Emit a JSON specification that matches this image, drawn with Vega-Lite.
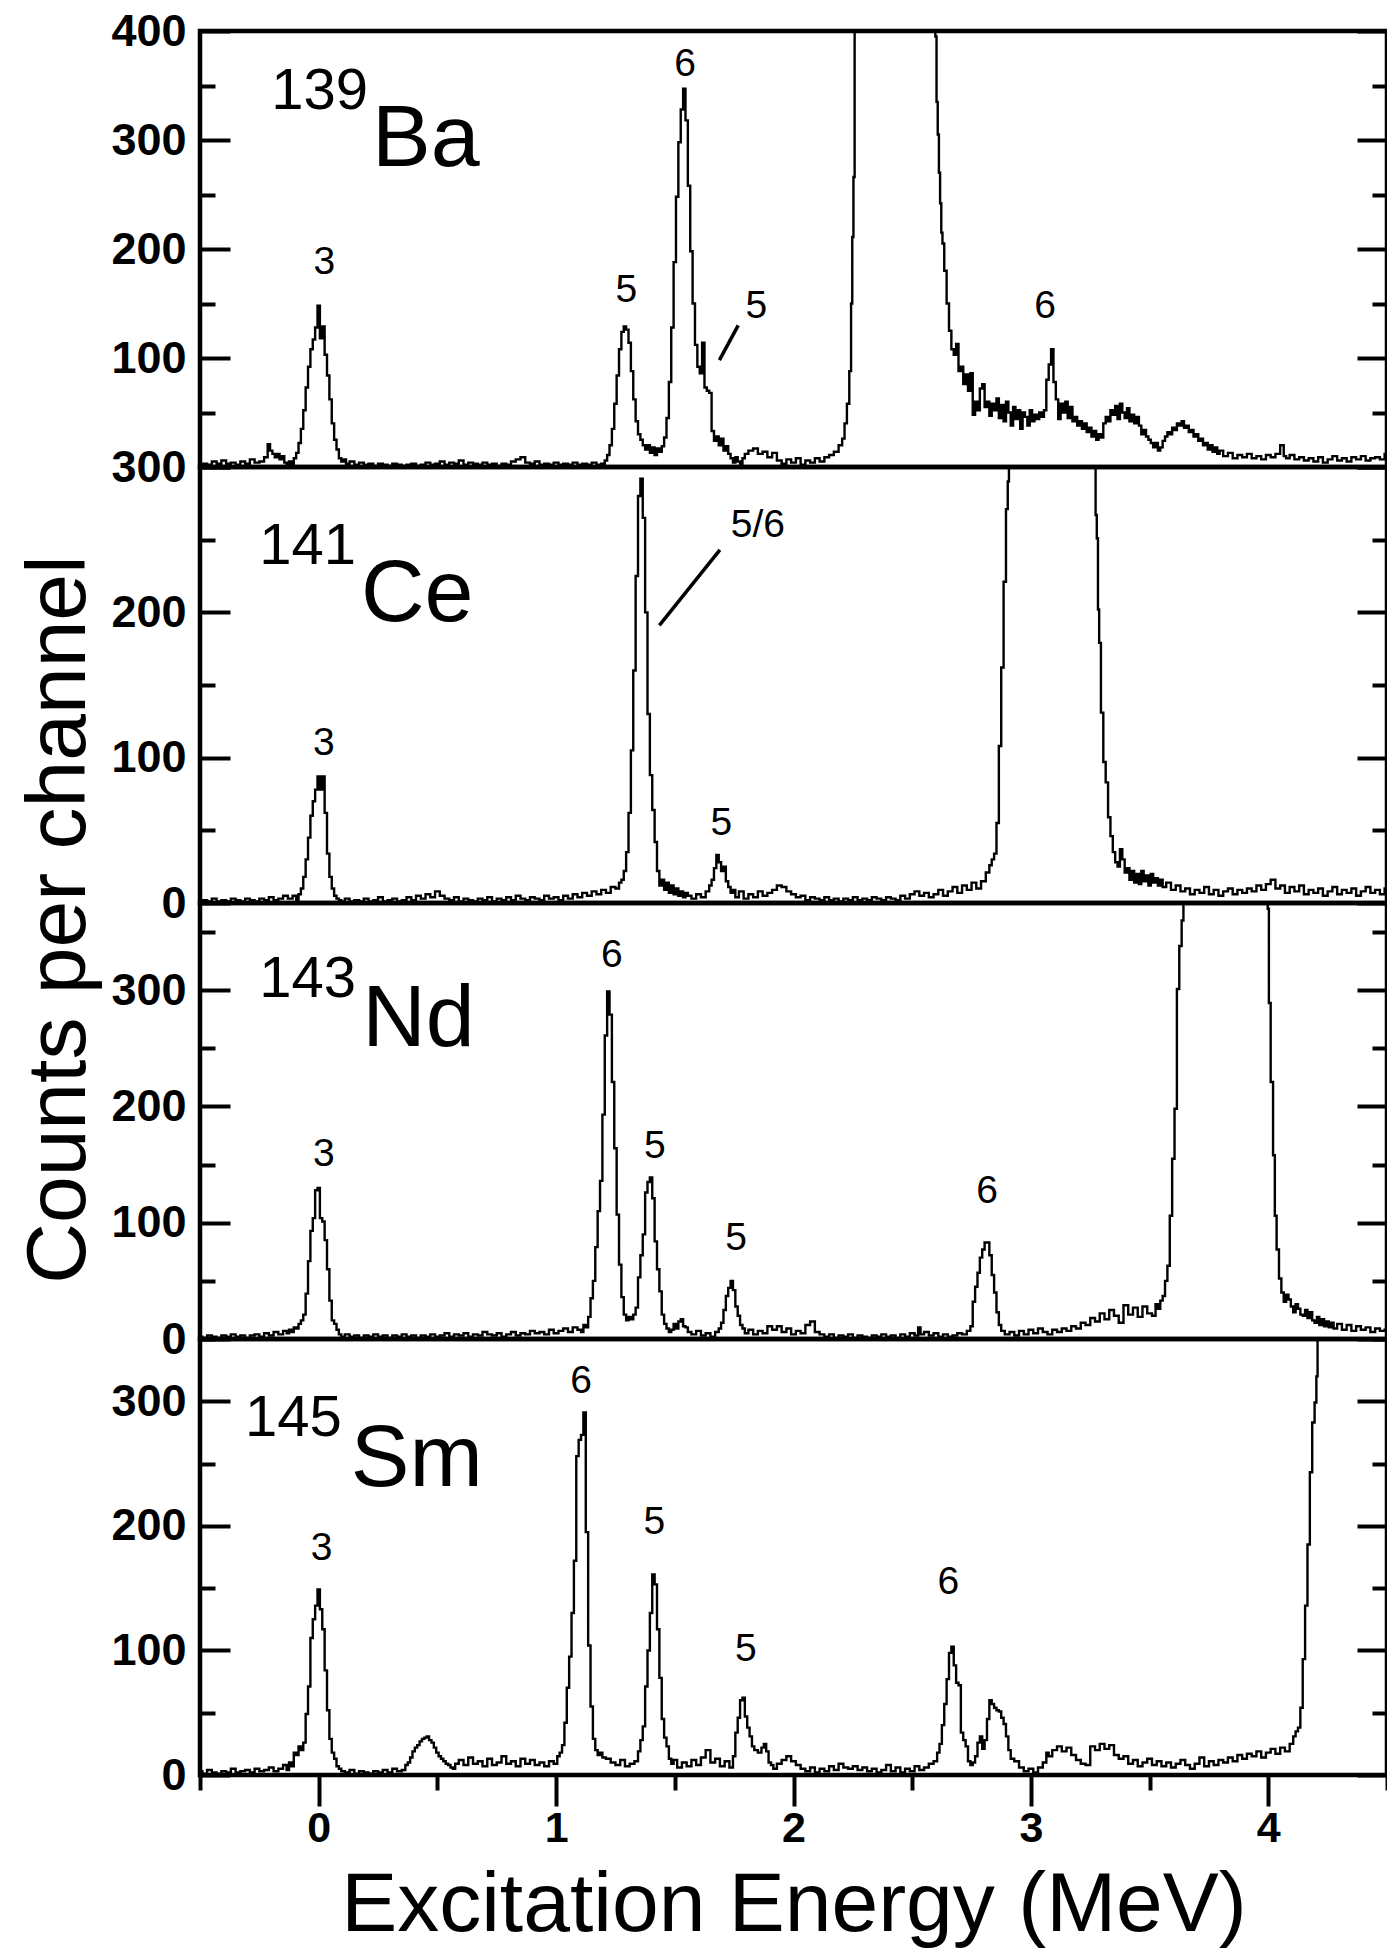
{
"$schema": "https://vega.github.io/schema/vega-lite/v6.json",
"padding": {"left": 14, "top": 6, "right": 0, "bottom": 0},
"bounds": "flush",
"spacing": 0,
"background": "white",
"config": {
  "view": {"stroke": "black", "strokeWidth": 4.5},
  "axis": {"domain": false, "grid": false, "ticks": true, "tickWidth": 4, "tickColor": "black", "labelFont": "Liberation Sans", "labelFontWeight": "bold", "labelFontSize": 45, "labelColor": "black", "labelOverlap": false, "labelFlush": false, "labelBound": false, "titleFont": "Liberation Sans", "titleFontWeight": "normal", "titleFontSize": 84, "titleColor": "black"}
},
"datasets": {
"ba": [
{"E":-0.5,"c":2},{"E":-0.48,"c":3},{"E":-0.46,"c":2},{"E":-0.44,"c":5},{"E":-0.42,"c":3},{"E":-0.4,"c":6},{"E":-0.38,"c":3},{"E":-0.36,"c":4},{"E":-0.34,"c":2},{"E":-0.32,"c":5},{"E":-0.3,"c":3},{"E":-0.28,"c":7},{"E":-0.26,"c":4},{"E":-0.24,"c":5},{"E":-0.22,"c":9},{"E":-0.21,"c":21},{"E":-0.2,"c":15},{"E":-0.19,"c":12},{"E":-0.18,"c":9},{"E":-0.17,"c":12},{"E":-0.16,"c":7},{"E":-0.15,"c":10},{"E":-0.14,"c":4},{"E":-0.13,"c":2},{"E":-0.12,"c":5},{"E":-0.11,"c":3},{"E":-0.1,"c":8},{"E":-0.09,"c":13},{"E":-0.08,"c":22},{"E":-0.07,"c":35},{"E":-0.06,"c":52},{"E":-0.05,"c":73},{"E":-0.04,"c":92},{"E":-0.03,"c":108},{"E":-0.02,"c":117},{"E":-0.01,"c":128},{"E":0,"c":148},{"E":0.01,"c":118},{"E":0.02,"c":129},{"E":0.03,"c":103},{"E":0.04,"c":84},{"E":0.05,"c":62},{"E":0.06,"c":40},{"E":0.07,"c":25},{"E":0.08,"c":16},{"E":0.09,"c":8},{"E":0.1,"c":5},{"E":0.11,"c":7},{"E":0.12,"c":3},{"E":0.14,"c":5},{"E":0.16,"c":2},{"E":0.18,"c":4},{"E":0.2,"c":2},{"E":0.22,"c":3},{"E":0.24,"c":1},{"E":0.26,"c":3},{"E":0.28,"c":2},{"E":0.3,"c":1},{"E":0.32,"c":3},{"E":0.34,"c":2},{"E":0.36,"c":1},{"E":0.38,"c":2},{"E":0.4,"c":3},{"E":0.42,"c":1},{"E":0.44,"c":2},{"E":0.46,"c":4},{"E":0.48,"c":2},{"E":0.5,"c":3},{"E":0.52,"c":5},{"E":0.54,"c":2},{"E":0.56,"c":4},{"E":0.58,"c":3},{"E":0.6,"c":6},{"E":0.62,"c":2},{"E":0.64,"c":4},{"E":0.66,"c":3},{"E":0.68,"c":2},{"E":0.7,"c":4},{"E":0.72,"c":2},{"E":0.74,"c":3},{"E":0.76,"c":1},{"E":0.78,"c":3},{"E":0.8,"c":2},{"E":0.82,"c":5},{"E":0.84,"c":7},{"E":0.86,"c":9},{"E":0.88,"c":4},{"E":0.9,"c":3},{"E":0.92,"c":5},{"E":0.94,"c":2},{"E":0.96,"c":3},{"E":0.98,"c":2},{"E":1,"c":4},{"E":1.02,"c":2},{"E":1.04,"c":3},{"E":1.06,"c":2},{"E":1.08,"c":4},{"E":1.1,"c":2},{"E":1.12,"c":3},{"E":1.14,"c":2},{"E":1.16,"c":4},{"E":1.18,"c":2},{"E":1.2,"c":3},{"E":1.21,"c":6},{"E":1.22,"c":11},{"E":1.23,"c":20},{"E":1.24,"c":35},{"E":1.25,"c":58},{"E":1.26,"c":84},{"E":1.27,"c":108},{"E":1.28,"c":124},{"E":1.29,"c":129},{"E":1.3,"c":126},{"E":1.31,"c":114},{"E":1.32,"c":88},{"E":1.33,"c":62},{"E":1.34,"c":42},{"E":1.35,"c":30},{"E":1.36,"c":25},{"E":1.37,"c":20},{"E":1.38,"c":16},{"E":1.39,"c":20},{"E":1.4,"c":13},{"E":1.41,"c":18},{"E":1.42,"c":11},{"E":1.43,"c":17},{"E":1.44,"c":14},{"E":1.45,"c":19},{"E":1.46,"c":27},{"E":1.47,"c":45},{"E":1.48,"c":78},{"E":1.49,"c":128},{"E":1.5,"c":188},{"E":1.51,"c":248},{"E":1.52,"c":298},{"E":1.53,"c":328},{"E":1.54,"c":347},{"E":1.55,"c":318},{"E":1.56,"c":258},{"E":1.57,"c":198},{"E":1.58,"c":150},{"E":1.59,"c":112},{"E":1.6,"c":92},{"E":1.61,"c":86},{"E":1.62,"c":114},{"E":1.63,"c":73},{"E":1.64,"c":70},{"E":1.65,"c":68},{"E":1.66,"c":33},{"E":1.67,"c":24},{"E":1.68,"c":28},{"E":1.69,"c":20},{"E":1.7,"c":26},{"E":1.71,"c":15},{"E":1.72,"c":19},{"E":1.73,"c":12},{"E":1.74,"c":8},{"E":1.75,"c":4},{"E":1.76,"c":9},{"E":1.77,"c":5},{"E":1.78,"c":3},{"E":1.79,"c":8},{"E":1.8,"c":12},{"E":1.82,"c":15},{"E":1.84,"c":17},{"E":1.86,"c":12},{"E":1.88,"c":14},{"E":1.9,"c":9},{"E":1.92,"c":13},{"E":1.94,"c":6},{"E":1.96,"c":3},{"E":1.98,"c":7},{"E":2,"c":4},{"E":2.02,"c":8},{"E":2.04,"c":2},{"E":2.06,"c":6},{"E":2.08,"c":4},{"E":2.1,"c":8},{"E":2.12,"c":5},{"E":2.14,"c":9},{"E":2.16,"c":11},{"E":2.18,"c":14},{"E":2.2,"c":20},{"E":2.21,"c":26},{"E":2.22,"c":40},{"E":2.23,"c":58},{"E":2.24,"c":88},{"E":2.245,"c":150},{"E":2.25,"c":211},{"E":2.255,"c":266},{"E":2.26,"c":460},{"E":2.3,"c":1000},{"E":2.4,"c":1500},{"E":2.5,"c":1300},{"E":2.57,"c":800},{"E":2.595,"c":460},{"E":2.6,"c":395},{"E":2.605,"c":335},{"E":2.61,"c":305},{"E":2.615,"c":270},{"E":2.62,"c":242},{"E":2.625,"c":215},{"E":2.63,"c":205},{"E":2.64,"c":180},{"E":2.65,"c":150},{"E":2.66,"c":125},{"E":2.67,"c":108},{"E":2.68,"c":103},{"E":2.69,"c":113},{"E":2.7,"c":88},{"E":2.71,"c":92},{"E":2.72,"c":76},{"E":2.73,"c":85},{"E":2.74,"c":70},{"E":2.75,"c":86},{"E":2.76,"c":48},{"E":2.77,"c":60},{"E":2.78,"c":52},{"E":2.79,"c":72},{"E":2.8,"c":76},{"E":2.81,"c":55},{"E":2.82,"c":60},{"E":2.83,"c":47},{"E":2.84,"c":58},{"E":2.85,"c":52},{"E":2.86,"c":63},{"E":2.87,"c":45},{"E":2.88,"c":57},{"E":2.89,"c":42},{"E":2.9,"c":60},{"E":2.91,"c":50},{"E":2.92,"c":38},{"E":2.93,"c":55},{"E":2.94,"c":44},{"E":2.95,"c":52},{"E":2.96,"c":35},{"E":2.97,"c":50},{"E":2.98,"c":46},{"E":2.99,"c":38},{"E":3,"c":52},{"E":3.01,"c":42},{"E":3.02,"c":48},{"E":3.03,"c":44},{"E":3.04,"c":50},{"E":3.05,"c":46},{"E":3.06,"c":52},{"E":3.07,"c":80},{"E":3.08,"c":94},{"E":3.09,"c":108},{"E":3.1,"c":78},{"E":3.11,"c":62},{"E":3.12,"c":44},{"E":3.13,"c":58},{"E":3.14,"c":50},{"E":3.15,"c":60},{"E":3.16,"c":45},{"E":3.17,"c":55},{"E":3.18,"c":42},{"E":3.19,"c":46},{"E":3.2,"c":38},{"E":3.21,"c":42},{"E":3.22,"c":35},{"E":3.23,"c":40},{"E":3.24,"c":32},{"E":3.25,"c":36},{"E":3.26,"c":28},{"E":3.27,"c":33},{"E":3.28,"c":25},{"E":3.29,"c":30},{"E":3.3,"c":27},{"E":3.31,"c":40},{"E":3.32,"c":46},{"E":3.33,"c":42},{"E":3.34,"c":52},{"E":3.35,"c":48},{"E":3.36,"c":56},{"E":3.37,"c":44},{"E":3.38,"c":58},{"E":3.39,"c":50},{"E":3.4,"c":45},{"E":3.41,"c":54},{"E":3.42,"c":42},{"E":3.43,"c":48},{"E":3.44,"c":40},{"E":3.45,"c":46},{"E":3.46,"c":38},{"E":3.47,"c":30},{"E":3.48,"c":34},{"E":3.49,"c":28},{"E":3.5,"c":25},{"E":3.51,"c":22},{"E":3.52,"c":18},{"E":3.53,"c":22},{"E":3.54,"c":15},{"E":3.55,"c":18},{"E":3.56,"c":24},{"E":3.57,"c":28},{"E":3.58,"c":32},{"E":3.59,"c":30},{"E":3.6,"c":36},{"E":3.61,"c":34},{"E":3.62,"c":40},{"E":3.63,"c":38},{"E":3.64,"c":42},{"E":3.65,"c":36},{"E":3.66,"c":38},{"E":3.67,"c":32},{"E":3.68,"c":34},{"E":3.69,"c":28},{"E":3.7,"c":30},{"E":3.71,"c":24},{"E":3.72,"c":26},{"E":3.73,"c":20},{"E":3.74,"c":22},{"E":3.75,"c":16},{"E":3.76,"c":20},{"E":3.77,"c":14},{"E":3.78,"c":18},{"E":3.79,"c":12},{"E":3.8,"c":15},{"E":3.82,"c":10},{"E":3.84,"c":13},{"E":3.86,"c":8},{"E":3.88,"c":11},{"E":3.9,"c":9},{"E":3.92,"c":12},{"E":3.94,"c":8},{"E":3.96,"c":10},{"E":3.98,"c":7},{"E":4,"c":11},{"E":4.02,"c":9},{"E":4.04,"c":12},{"E":4.06,"c":20},{"E":4.07,"c":10},{"E":4.08,"c":8},{"E":4.1,"c":11},{"E":4.12,"c":7},{"E":4.14,"c":9},{"E":4.16,"c":6},{"E":4.18,"c":8},{"E":4.2,"c":5},{"E":4.22,"c":9},{"E":4.24,"c":4},{"E":4.26,"c":7},{"E":4.28,"c":10},{"E":4.3,"c":6},{"E":4.32,"c":8},{"E":4.34,"c":5},{"E":4.36,"c":9},{"E":4.38,"c":7},{"E":4.4,"c":10},{"E":4.42,"c":6},{"E":4.44,"c":8},{"E":4.46,"c":9},{"E":4.48,"c":7},{"E":4.5,"c":12}
],
"ce": [
{"E":-0.5,"c":1},{"E":-0.48,"c":2},{"E":-0.46,"c":1},{"E":-0.44,"c":3},{"E":-0.42,"c":1},{"E":-0.4,"c":2},{"E":-0.38,"c":1},{"E":-0.36,"c":3},{"E":-0.34,"c":2},{"E":-0.32,"c":1},{"E":-0.3,"c":3},{"E":-0.28,"c":2},{"E":-0.26,"c":1},{"E":-0.24,"c":3},{"E":-0.22,"c":2},{"E":-0.2,"c":4},{"E":-0.18,"c":2},{"E":-0.16,"c":3},{"E":-0.14,"c":5},{"E":-0.12,"c":3},{"E":-0.1,"c":5},{"E":-0.09,"c":2},{"E":-0.08,"c":6},{"E":-0.07,"c":10},{"E":-0.06,"c":18},{"E":-0.05,"c":30},{"E":-0.04,"c":45},{"E":-0.03,"c":60},{"E":-0.02,"c":70},{"E":-0.01,"c":78},{"E":0,"c":87},{"E":0.01,"c":78},{"E":0.02,"c":87},{"E":0.03,"c":62},{"E":0.04,"c":34},{"E":0.05,"c":18},{"E":0.06,"c":10},{"E":0.07,"c":5},{"E":0.08,"c":3},{"E":0.09,"c":2},{"E":0.1,"c":1},{"E":0.12,"c":3},{"E":0.14,"c":1},{"E":0.16,"c":2},{"E":0.18,"c":1},{"E":0.2,"c":3},{"E":0.22,"c":1},{"E":0.24,"c":2},{"E":0.26,"c":4},{"E":0.28,"c":1},{"E":0.3,"c":2},{"E":0.32,"c":3},{"E":0.34,"c":1},{"E":0.36,"c":2},{"E":0.38,"c":4},{"E":0.4,"c":2},{"E":0.42,"c":5},{"E":0.44,"c":3},{"E":0.46,"c":6},{"E":0.48,"c":4},{"E":0.5,"c":8},{"E":0.52,"c":5},{"E":0.54,"c":3},{"E":0.56,"c":2},{"E":0.58,"c":4},{"E":0.6,"c":1},{"E":0.62,"c":3},{"E":0.64,"c":2},{"E":0.66,"c":1},{"E":0.68,"c":3},{"E":0.7,"c":2},{"E":0.72,"c":4},{"E":0.74,"c":1},{"E":0.76,"c":3},{"E":0.78,"c":2},{"E":0.8,"c":4},{"E":0.82,"c":2},{"E":0.84,"c":5},{"E":0.86,"c":3},{"E":0.88,"c":2},{"E":0.9,"c":4},{"E":0.92,"c":3},{"E":0.94,"c":2},{"E":0.96,"c":5},{"E":0.98,"c":3},{"E":1,"c":4},{"E":1.02,"c":2},{"E":1.04,"c":5},{"E":1.06,"c":3},{"E":1.08,"c":6},{"E":1.1,"c":4},{"E":1.12,"c":7},{"E":1.14,"c":5},{"E":1.16,"c":8},{"E":1.18,"c":6},{"E":1.2,"c":9},{"E":1.22,"c":7},{"E":1.24,"c":11},{"E":1.26,"c":10},{"E":1.27,"c":14},{"E":1.28,"c":16},{"E":1.29,"c":22},{"E":1.3,"c":35},{"E":1.31,"c":62},{"E":1.32,"c":105},{"E":1.33,"c":160},{"E":1.34,"c":225},{"E":1.35,"c":280},{"E":1.36,"c":292},{"E":1.37,"c":265},{"E":1.38,"c":200},{"E":1.39,"c":130},{"E":1.4,"c":88},{"E":1.41,"c":64},{"E":1.42,"c":42},{"E":1.43,"c":22},{"E":1.44,"c":12},{"E":1.45,"c":16},{"E":1.46,"c":9},{"E":1.47,"c":14},{"E":1.48,"c":7},{"E":1.49,"c":12},{"E":1.5,"c":6},{"E":1.51,"c":10},{"E":1.52,"c":5},{"E":1.53,"c":8},{"E":1.54,"c":4},{"E":1.55,"c":7},{"E":1.56,"c":5},{"E":1.58,"c":3},{"E":1.6,"c":6},{"E":1.62,"c":4},{"E":1.64,"c":8},{"E":1.65,"c":12},{"E":1.66,"c":16},{"E":1.67,"c":24},{"E":1.68,"c":33},{"E":1.69,"c":28},{"E":1.7,"c":22},{"E":1.71,"c":25},{"E":1.72,"c":15},{"E":1.73,"c":11},{"E":1.74,"c":7},{"E":1.75,"c":9},{"E":1.76,"c":4},{"E":1.78,"c":8},{"E":1.8,"c":3},{"E":1.82,"c":6},{"E":1.84,"c":4},{"E":1.86,"c":8},{"E":1.88,"c":5},{"E":1.9,"c":7},{"E":1.92,"c":9},{"E":1.94,"c":12},{"E":1.96,"c":11},{"E":1.98,"c":8},{"E":2,"c":6},{"E":2.02,"c":4},{"E":2.04,"c":5},{"E":2.06,"c":2},{"E":2.08,"c":4},{"E":2.1,"c":3},{"E":2.12,"c":2},{"E":2.14,"c":4},{"E":2.16,"c":2},{"E":2.18,"c":3},{"E":2.2,"c":1},{"E":2.22,"c":3},{"E":2.24,"c":2},{"E":2.26,"c":4},{"E":2.28,"c":2},{"E":2.3,"c":3},{"E":2.32,"c":2},{"E":2.34,"c":4},{"E":2.36,"c":3},{"E":2.38,"c":2},{"E":2.4,"c":4},{"E":2.42,"c":3},{"E":2.44,"c":2},{"E":2.46,"c":5},{"E":2.48,"c":3},{"E":2.5,"c":6},{"E":2.52,"c":8},{"E":2.54,"c":5},{"E":2.56,"c":7},{"E":2.58,"c":4},{"E":2.6,"c":6},{"E":2.62,"c":9},{"E":2.64,"c":5},{"E":2.66,"c":8},{"E":2.68,"c":11},{"E":2.7,"c":7},{"E":2.72,"c":12},{"E":2.74,"c":9},{"E":2.76,"c":14},{"E":2.78,"c":10},{"E":2.8,"c":15},{"E":2.82,"c":21},{"E":2.83,"c":26},{"E":2.84,"c":30},{"E":2.85,"c":34},{"E":2.86,"c":55},{"E":2.87,"c":108},{"E":2.88,"c":162},{"E":2.89,"c":221},{"E":2.9,"c":271},{"E":2.905,"c":290},{"E":2.91,"c":500},{"E":3,"c":1200},{"E":3.1,"c":1500},{"E":3.2,"c":1100},{"E":3.265,"c":500},{"E":3.27,"c":300},{"E":3.275,"c":267},{"E":3.28,"c":251},{"E":3.285,"c":202},{"E":3.29,"c":179},{"E":3.3,"c":131},{"E":3.31,"c":97},{"E":3.32,"c":83},{"E":3.33,"c":59},{"E":3.34,"c":46},{"E":3.35,"c":35},{"E":3.36,"c":28},{"E":3.37,"c":25},{"E":3.38,"c":37},{"E":3.39,"c":30},{"E":3.4,"c":21},{"E":3.41,"c":24},{"E":3.42,"c":16},{"E":3.43,"c":22},{"E":3.44,"c":14},{"E":3.45,"c":20},{"E":3.46,"c":13},{"E":3.47,"c":22},{"E":3.48,"c":15},{"E":3.49,"c":19},{"E":3.5,"c":12},{"E":3.51,"c":20},{"E":3.52,"c":14},{"E":3.53,"c":17},{"E":3.54,"c":12},{"E":3.55,"c":16},{"E":3.56,"c":11},{"E":3.58,"c":14},{"E":3.6,"c":9},{"E":3.62,"c":12},{"E":3.64,"c":8},{"E":3.66,"c":10},{"E":3.68,"c":6},{"E":3.7,"c":9},{"E":3.72,"c":7},{"E":3.74,"c":11},{"E":3.76,"c":6},{"E":3.78,"c":9},{"E":3.8,"c":5},{"E":3.82,"c":8},{"E":3.84,"c":10},{"E":3.86,"c":6},{"E":3.88,"c":9},{"E":3.9,"c":7},{"E":3.92,"c":10},{"E":3.94,"c":8},{"E":3.96,"c":12},{"E":3.98,"c":9},{"E":4,"c":13},{"E":4.02,"c":16},{"E":4.04,"c":10},{"E":4.06,"c":12},{"E":4.08,"c":7},{"E":4.1,"c":11},{"E":4.12,"c":8},{"E":4.14,"c":12},{"E":4.16,"c":6},{"E":4.18,"c":9},{"E":4.2,"c":7},{"E":4.22,"c":10},{"E":4.24,"c":5},{"E":4.26,"c":8},{"E":4.28,"c":11},{"E":4.3,"c":6},{"E":4.32,"c":9},{"E":4.34,"c":7},{"E":4.36,"c":10},{"E":4.38,"c":5},{"E":4.4,"c":8},{"E":4.42,"c":11},{"E":4.44,"c":7},{"E":4.46,"c":9},{"E":4.48,"c":6},{"E":4.5,"c":10}
],
"nd": [
{"E":-0.5,"c":2},{"E":-0.48,"c":1},{"E":-0.46,"c":3},{"E":-0.44,"c":2},{"E":-0.42,"c":1},{"E":-0.4,"c":3},{"E":-0.38,"c":2},{"E":-0.36,"c":4},{"E":-0.34,"c":2},{"E":-0.32,"c":3},{"E":-0.3,"c":1},{"E":-0.28,"c":3},{"E":-0.26,"c":4},{"E":-0.24,"c":2},{"E":-0.22,"c":5},{"E":-0.2,"c":3},{"E":-0.18,"c":6},{"E":-0.16,"c":4},{"E":-0.14,"c":7},{"E":-0.13,"c":5},{"E":-0.12,"c":8},{"E":-0.11,"c":6},{"E":-0.1,"c":10},{"E":-0.09,"c":9},{"E":-0.08,"c":13},{"E":-0.07,"c":16},{"E":-0.06,"c":21},{"E":-0.05,"c":39},{"E":-0.04,"c":67},{"E":-0.03,"c":93},{"E":-0.02,"c":104},{"E":-0.01,"c":128},{"E":0,"c":130},{"E":0.01,"c":104},{"E":0.02,"c":101},{"E":0.03,"c":85},{"E":0.04,"c":60},{"E":0.05,"c":33},{"E":0.06,"c":16},{"E":0.07,"c":13},{"E":0.08,"c":8},{"E":0.09,"c":4},{"E":0.1,"c":2},{"E":0.12,"c":4},{"E":0.14,"c":2},{"E":0.16,"c":3},{"E":0.18,"c":1},{"E":0.2,"c":3},{"E":0.22,"c":2},{"E":0.24,"c":4},{"E":0.26,"c":2},{"E":0.28,"c":3},{"E":0.3,"c":1},{"E":0.32,"c":3},{"E":0.34,"c":2},{"E":0.36,"c":4},{"E":0.38,"c":2},{"E":0.4,"c":3},{"E":0.42,"c":1},{"E":0.44,"c":3},{"E":0.46,"c":2},{"E":0.48,"c":4},{"E":0.5,"c":2},{"E":0.52,"c":3},{"E":0.54,"c":5},{"E":0.56,"c":2},{"E":0.58,"c":4},{"E":0.6,"c":3},{"E":0.62,"c":5},{"E":0.64,"c":2},{"E":0.66,"c":4},{"E":0.68,"c":3},{"E":0.7,"c":6},{"E":0.72,"c":4},{"E":0.74,"c":3},{"E":0.76,"c":5},{"E":0.78,"c":2},{"E":0.8,"c":4},{"E":0.82,"c":6},{"E":0.84,"c":3},{"E":0.86,"c":5},{"E":0.88,"c":4},{"E":0.9,"c":7},{"E":0.92,"c":5},{"E":0.94,"c":6},{"E":0.96,"c":4},{"E":0.98,"c":8},{"E":1,"c":5},{"E":1.02,"c":7},{"E":1.04,"c":9},{"E":1.06,"c":6},{"E":1.08,"c":10},{"E":1.1,"c":8},{"E":1.11,"c":6},{"E":1.12,"c":12},{"E":1.13,"c":10},{"E":1.14,"c":19},{"E":1.15,"c":35},{"E":1.16,"c":50},{"E":1.17,"c":79},{"E":1.18,"c":110},{"E":1.19,"c":136},{"E":1.2,"c":193},{"E":1.21,"c":261},{"E":1.22,"c":299},{"E":1.23,"c":279},{"E":1.24,"c":221},{"E":1.25,"c":164},{"E":1.26,"c":107},{"E":1.27,"c":64},{"E":1.28,"c":36},{"E":1.29,"c":21},{"E":1.3,"c":16},{"E":1.31,"c":19},{"E":1.32,"c":17},{"E":1.33,"c":21},{"E":1.34,"c":27},{"E":1.35,"c":53},{"E":1.36,"c":72},{"E":1.37,"c":90},{"E":1.38,"c":126},{"E":1.39,"c":135},{"E":1.4,"c":139},{"E":1.41,"c":121},{"E":1.42,"c":84},{"E":1.43,"c":60},{"E":1.44,"c":41},{"E":1.45,"c":21},{"E":1.46,"c":13},{"E":1.47,"c":9},{"E":1.48,"c":6},{"E":1.49,"c":8},{"E":1.5,"c":13},{"E":1.51,"c":9},{"E":1.52,"c":15},{"E":1.53,"c":17},{"E":1.54,"c":11},{"E":1.55,"c":10},{"E":1.56,"c":6},{"E":1.58,"c":4},{"E":1.6,"c":7},{"E":1.62,"c":3},{"E":1.64,"c":5},{"E":1.66,"c":2},{"E":1.68,"c":6},{"E":1.69,"c":9},{"E":1.7,"c":14},{"E":1.71,"c":25},{"E":1.72,"c":37},{"E":1.73,"c":44},{"E":1.74,"c":50},{"E":1.75,"c":42},{"E":1.76,"c":28},{"E":1.77,"c":20},{"E":1.78,"c":12},{"E":1.79,"c":9},{"E":1.8,"c":5},{"E":1.82,"c":8},{"E":1.84,"c":4},{"E":1.86,"c":7},{"E":1.88,"c":5},{"E":1.9,"c":11},{"E":1.92,"c":8},{"E":1.94,"c":11},{"E":1.96,"c":6},{"E":1.98,"c":9},{"E":2,"c":4},{"E":2.02,"c":7},{"E":2.04,"c":5},{"E":2.06,"c":12},{"E":2.08,"c":15},{"E":2.1,"c":6},{"E":2.12,"c":4},{"E":2.14,"c":2},{"E":2.16,"c":4},{"E":2.18,"c":1},{"E":2.2,"c":3},{"E":2.22,"c":2},{"E":2.24,"c":4},{"E":2.26,"c":1},{"E":2.28,"c":3},{"E":2.3,"c":2},{"E":2.32,"c":1},{"E":2.34,"c":3},{"E":2.36,"c":2},{"E":2.38,"c":4},{"E":2.4,"c":2},{"E":2.42,"c":3},{"E":2.44,"c":1},{"E":2.46,"c":4},{"E":2.48,"c":2},{"E":2.5,"c":5},{"E":2.52,"c":3},{"E":2.53,"c":10},{"E":2.54,"c":4},{"E":2.56,"c":6},{"E":2.58,"c":3},{"E":2.6,"c":5},{"E":2.62,"c":2},{"E":2.64,"c":4},{"E":2.66,"c":2},{"E":2.68,"c":3},{"E":2.7,"c":5},{"E":2.72,"c":4},{"E":2.74,"c":7},{"E":2.75,"c":11},{"E":2.76,"c":32},{"E":2.77,"c":45},{"E":2.78,"c":57},{"E":2.79,"c":70},{"E":2.8,"c":77},{"E":2.81,"c":83},{"E":2.82,"c":83},{"E":2.83,"c":72},{"E":2.84,"c":55},{"E":2.85,"c":40},{"E":2.86,"c":23},{"E":2.87,"c":12},{"E":2.88,"c":7},{"E":2.9,"c":4},{"E":2.92,"c":6},{"E":2.94,"c":3},{"E":2.96,"c":7},{"E":2.98,"c":4},{"E":3,"c":8},{"E":3.02,"c":5},{"E":3.04,"c":9},{"E":3.06,"c":6},{"E":3.08,"c":4},{"E":3.1,"c":8},{"E":3.12,"c":6},{"E":3.14,"c":9},{"E":3.16,"c":7},{"E":3.18,"c":11},{"E":3.2,"c":9},{"E":3.22,"c":14},{"E":3.24,"c":12},{"E":3.26,"c":18},{"E":3.28,"c":15},{"E":3.3,"c":22},{"E":3.32,"c":17},{"E":3.34,"c":25},{"E":3.36,"c":20},{"E":3.38,"c":14},{"E":3.4,"c":29},{"E":3.42,"c":21},{"E":3.44,"c":27},{"E":3.46,"c":19},{"E":3.48,"c":28},{"E":3.5,"c":22},{"E":3.52,"c":20},{"E":3.53,"c":30},{"E":3.54,"c":26},{"E":3.55,"c":33},{"E":3.56,"c":37},{"E":3.57,"c":50},{"E":3.58,"c":63},{"E":3.59,"c":106},{"E":3.6,"c":155},{"E":3.61,"c":198},{"E":3.62,"c":301},{"E":3.63,"c":338},{"E":3.64,"c":360},{"E":3.645,"c":600},{"E":3.7,"c":1200},{"E":3.8,"c":1500},{"E":3.9,"c":1200},{"E":3.995,"c":600},{"E":4,"c":370},{"E":4.005,"c":289},{"E":4.015,"c":221},{"E":4.025,"c":158},{"E":4.03,"c":106},{"E":4.04,"c":77},{"E":4.05,"c":52},{"E":4.06,"c":40},{"E":4.07,"c":32},{"E":4.08,"c":38},{"E":4.09,"c":34},{"E":4.1,"c":28},{"E":4.11,"c":23},{"E":4.12,"c":30},{"E":4.13,"c":26},{"E":4.14,"c":21},{"E":4.15,"c":20},{"E":4.16,"c":25},{"E":4.17,"c":18},{"E":4.18,"c":23},{"E":4.19,"c":16},{"E":4.2,"c":14},{"E":4.21,"c":19},{"E":4.22,"c":12},{"E":4.23,"c":17},{"E":4.24,"c":11},{"E":4.25,"c":15},{"E":4.26,"c":10},{"E":4.27,"c":14},{"E":4.28,"c":9},{"E":4.3,"c":13},{"E":4.32,"c":8},{"E":4.34,"c":12},{"E":4.36,"c":7},{"E":4.38,"c":11},{"E":4.4,"c":8},{"E":4.42,"c":10},{"E":4.44,"c":6},{"E":4.46,"c":9},{"E":4.48,"c":7},{"E":4.5,"c":8}
],
"sm": [
{"E":-0.5,"c":3},{"E":-0.48,"c":1},{"E":-0.46,"c":4},{"E":-0.44,"c":2},{"E":-0.42,"c":1},{"E":-0.4,"c":3},{"E":-0.38,"c":2},{"E":-0.36,"c":5},{"E":-0.34,"c":2},{"E":-0.32,"c":3},{"E":-0.3,"c":4},{"E":-0.28,"c":2},{"E":-0.26,"c":5},{"E":-0.24,"c":3},{"E":-0.22,"c":4},{"E":-0.2,"c":6},{"E":-0.18,"c":3},{"E":-0.16,"c":5},{"E":-0.14,"c":8},{"E":-0.13,"c":4},{"E":-0.12,"c":10},{"E":-0.11,"c":7},{"E":-0.1,"c":18},{"E":-0.09,"c":16},{"E":-0.08,"c":23},{"E":-0.07,"c":20},{"E":-0.06,"c":26},{"E":-0.05,"c":49},{"E":-0.04,"c":71},{"E":-0.03,"c":110},{"E":-0.02,"c":125},{"E":-0.01,"c":136},{"E":0,"c":149},{"E":0.01,"c":133},{"E":0.02,"c":117},{"E":0.03,"c":84},{"E":0.04,"c":52},{"E":0.05,"c":29},{"E":0.06,"c":18},{"E":0.07,"c":13},{"E":0.08,"c":7},{"E":0.09,"c":5},{"E":0.1,"c":3},{"E":0.12,"c":2},{"E":0.14,"c":4},{"E":0.16,"c":1},{"E":0.18,"c":3},{"E":0.2,"c":2},{"E":0.22,"c":1},{"E":0.24,"c":3},{"E":0.26,"c":2},{"E":0.28,"c":4},{"E":0.3,"c":2},{"E":0.32,"c":5},{"E":0.34,"c":3},{"E":0.36,"c":4},{"E":0.37,"c":8},{"E":0.38,"c":10},{"E":0.39,"c":14},{"E":0.4,"c":19},{"E":0.41,"c":22},{"E":0.42,"c":24},{"E":0.43,"c":27},{"E":0.44,"c":29},{"E":0.45,"c":30},{"E":0.46,"c":31},{"E":0.47,"c":28},{"E":0.48,"c":26},{"E":0.49,"c":22},{"E":0.5,"c":18},{"E":0.51,"c":15},{"E":0.52,"c":13},{"E":0.53,"c":11},{"E":0.54,"c":9},{"E":0.55,"c":8},{"E":0.56,"c":6},{"E":0.57,"c":5},{"E":0.58,"c":9},{"E":0.6,"c":12},{"E":0.62,"c":8},{"E":0.64,"c":14},{"E":0.66,"c":9},{"E":0.68,"c":11},{"E":0.7,"c":7},{"E":0.72,"c":13},{"E":0.74,"c":8},{"E":0.76,"c":10},{"E":0.78,"c":15},{"E":0.8,"c":9},{"E":0.82,"c":11},{"E":0.84,"c":7},{"E":0.86,"c":13},{"E":0.88,"c":9},{"E":0.9,"c":12},{"E":0.92,"c":8},{"E":0.94,"c":10},{"E":0.96,"c":7},{"E":0.98,"c":11},{"E":1,"c":9},{"E":1.01,"c":15},{"E":1.02,"c":18},{"E":1.03,"c":24},{"E":1.04,"c":42},{"E":1.05,"c":70},{"E":1.06,"c":95},{"E":1.07,"c":130},{"E":1.08,"c":172},{"E":1.09,"c":256},{"E":1.1,"c":269},{"E":1.11,"c":273},{"E":1.12,"c":291},{"E":1.13,"c":195},{"E":1.14,"c":104},{"E":1.15,"c":55},{"E":1.16,"c":29},{"E":1.17,"c":20},{"E":1.18,"c":16},{"E":1.19,"c":18},{"E":1.2,"c":14},{"E":1.22,"c":13},{"E":1.24,"c":10},{"E":1.26,"c":8},{"E":1.28,"c":12},{"E":1.3,"c":7},{"E":1.32,"c":9},{"E":1.34,"c":11},{"E":1.35,"c":19},{"E":1.36,"c":28},{"E":1.37,"c":39},{"E":1.38,"c":71},{"E":1.39,"c":100},{"E":1.4,"c":130},{"E":1.41,"c":161},{"E":1.42,"c":153},{"E":1.43,"c":117},{"E":1.44,"c":78},{"E":1.45,"c":45},{"E":1.46,"c":30},{"E":1.47,"c":23},{"E":1.48,"c":13},{"E":1.49,"c":9},{"E":1.5,"c":12},{"E":1.52,"c":6},{"E":1.54,"c":10},{"E":1.56,"c":7},{"E":1.58,"c":12},{"E":1.6,"c":8},{"E":1.62,"c":14},{"E":1.64,"c":20},{"E":1.66,"c":10},{"E":1.68,"c":13},{"E":1.7,"c":7},{"E":1.72,"c":11},{"E":1.74,"c":6},{"E":1.75,"c":15},{"E":1.76,"c":34},{"E":1.77,"c":46},{"E":1.78,"c":60},{"E":1.79,"c":62},{"E":1.8,"c":47},{"E":1.81,"c":38},{"E":1.82,"c":31},{"E":1.83,"c":23},{"E":1.84,"c":20},{"E":1.86,"c":18},{"E":1.87,"c":22},{"E":1.88,"c":25},{"E":1.89,"c":19},{"E":1.9,"c":10},{"E":1.91,"c":8},{"E":1.92,"c":5},{"E":1.94,"c":9},{"E":1.96,"c":12},{"E":1.98,"c":15},{"E":2,"c":11},{"E":2.02,"c":8},{"E":2.04,"c":5},{"E":2.06,"c":3},{"E":2.08,"c":6},{"E":2.1,"c":2},{"E":2.12,"c":5},{"E":2.14,"c":3},{"E":2.16,"c":7},{"E":2.18,"c":4},{"E":2.2,"c":9},{"E":2.22,"c":6},{"E":2.24,"c":5},{"E":2.26,"c":7},{"E":2.28,"c":4},{"E":2.3,"c":6},{"E":2.32,"c":3},{"E":2.34,"c":5},{"E":2.36,"c":2},{"E":2.38,"c":4},{"E":2.4,"c":8},{"E":2.42,"c":3},{"E":2.44,"c":6},{"E":2.46,"c":2},{"E":2.48,"c":5},{"E":2.5,"c":3},{"E":2.52,"c":7},{"E":2.54,"c":4},{"E":2.56,"c":6},{"E":2.58,"c":9},{"E":2.6,"c":11},{"E":2.61,"c":18},{"E":2.62,"c":25},{"E":2.63,"c":40},{"E":2.64,"c":57},{"E":2.65,"c":77},{"E":2.66,"c":98},{"E":2.67,"c":103},{"E":2.68,"c":88},{"E":2.69,"c":74},{"E":2.7,"c":72},{"E":2.71,"c":34},{"E":2.72,"c":28},{"E":2.73,"c":23},{"E":2.74,"c":11},{"E":2.75,"c":8},{"E":2.76,"c":10},{"E":2.77,"c":15},{"E":2.78,"c":26},{"E":2.79,"c":31},{"E":2.8,"c":21},{"E":2.81,"c":28},{"E":2.82,"c":45},{"E":2.83,"c":60},{"E":2.84,"c":57},{"E":2.85,"c":54},{"E":2.86,"c":52},{"E":2.87,"c":51},{"E":2.88,"c":46},{"E":2.89,"c":41},{"E":2.9,"c":31},{"E":2.91,"c":20},{"E":2.92,"c":13},{"E":2.94,"c":11},{"E":2.96,"c":6},{"E":2.98,"c":3},{"E":3,"c":5},{"E":3.02,"c":2},{"E":3.04,"c":6},{"E":3.06,"c":10},{"E":3.07,"c":18},{"E":3.08,"c":15},{"E":3.1,"c":20},{"E":3.12,"c":23},{"E":3.14,"c":19},{"E":3.16,"c":22},{"E":3.18,"c":16},{"E":3.2,"c":12},{"E":3.22,"c":9},{"E":3.24,"c":8},{"E":3.26,"c":23},{"E":3.28,"c":20},{"E":3.3,"c":25},{"E":3.32,"c":21},{"E":3.34,"c":24},{"E":3.36,"c":16},{"E":3.38,"c":13},{"E":3.4,"c":15},{"E":3.42,"c":9},{"E":3.44,"c":12},{"E":3.46,"c":7},{"E":3.48,"c":10},{"E":3.5,"c":13},{"E":3.52,"c":8},{"E":3.54,"c":11},{"E":3.56,"c":7},{"E":3.58,"c":10},{"E":3.6,"c":6},{"E":3.62,"c":9},{"E":3.64,"c":12},{"E":3.66,"c":8},{"E":3.68,"c":5},{"E":3.7,"c":9},{"E":3.72,"c":14},{"E":3.74,"c":7},{"E":3.76,"c":11},{"E":3.78,"c":8},{"E":3.8,"c":12},{"E":3.82,"c":10},{"E":3.84,"c":14},{"E":3.86,"c":11},{"E":3.88,"c":16},{"E":3.9,"c":13},{"E":3.92,"c":17},{"E":3.94,"c":15},{"E":3.96,"c":19},{"E":3.98,"c":14},{"E":4,"c":18},{"E":4.02,"c":21},{"E":4.04,"c":17},{"E":4.06,"c":22},{"E":4.08,"c":19},{"E":4.1,"c":25},{"E":4.11,"c":31},{"E":4.12,"c":35},{"E":4.13,"c":38},{"E":4.14,"c":54},{"E":4.15,"c":93},{"E":4.16,"c":136},{"E":4.17,"c":185},{"E":4.18,"c":243},{"E":4.19,"c":283},{"E":4.2,"c":299},{"E":4.205,"c":320},{"E":4.21,"c":600},{"E":4.3,"c":1200},{"E":4.4,"c":1500},{"E":4.5,"c":1600}
],
"ann": [
{"p":"Ba","k":"mass","E":-0.2,"c":328,"t":"139"},
{"p":"Ba","k":"elem","E":0.225,"c":276,"t":"Ba"},
{"p":"Ba","k":"peak","E":0.024,"c":188,"t":"3"},
{"p":"Ba","k":"peak","E":1.296,"c":162,"t":"5"},
{"p":"Ba","k":"peak","E":1.543,"c":370,"t":"6"},
{"p":"Ba","k":"peak","E":1.843,"c":148,"t":"5"},
{"p":"Ba","k":"peak","E":3.06,"c":148,"t":"6"},
{"p":"Ce","k":"mass","E":-0.25,"c":233,"t":"141"},
{"p":"Ce","k":"elem","E":0.178,"c":194,"t":"Ce"},
{"p":"Ce","k":"peak","E":0.022,"c":110,"t":"3"},
{"p":"Ce","k":"peak","E":1.85,"c":260,"t":"5/6"},
{"p":"Ce","k":"peak","E":1.696,"c":55,"t":"5"},
{"p":"Nd","k":"mass","E":-0.25,"c":294,"t":"143"},
{"p":"Nd","k":"elem","E":0.183,"c":252,"t":"Nd"},
{"p":"Nd","k":"peak","E":0.022,"c":159,"t":"3"},
{"p":"Nd","k":"peak","E":1.235,"c":330,"t":"6"},
{"p":"Nd","k":"peak","E":1.416,"c":166,"t":"5"},
{"p":"Nd","k":"peak","E":1.758,"c":87,"t":"5"},
{"p":"Nd","k":"peak","E":2.815,"c":127,"t":"6"},
{"p":"Sm","k":"mass","E":-0.31,"c":272,"t":"145"},
{"p":"Sm","k":"elem","E":0.135,"c":232,"t":"Sm"},
{"p":"Sm","k":"peak","E":0.012,"c":182,"t":"3"},
{"p":"Sm","k":"peak","E":1.105,"c":316,"t":"6"},
{"p":"Sm","k":"peak","E":1.414,"c":203,"t":"5"},
{"p":"Sm","k":"peak","E":1.799,"c":101,"t":"5"},
{"p":"Sm","k":"peak","E":2.652,"c":155,"t":"6"}
],
"lead": [
{"p":"Ba","E":1.767,"c":130,"E2":1.688,"c2":98},
{"p":"Ce","E":1.69,"c":243,"E2":1.435,"c2":191}
]
},
"vconcat": [
{
  "width": 1187, "height": 436,
  "resolve": {"axis": {"y": "independent"}},
  "encoding": {"x": {"field": "E", "type": "quantitative", "scale": {"domain": [-0.5, 4.5], "nice": false, "zero": false}, "axis": null}},
  "layer": [
    {"data": {"name": "ba"}, "mark": {"type": "line", "interpolate": "step", "clip": true, "color": "black", "strokeWidth": 2.4},
     "encoding": {"y": {"field": "c", "type": "quantitative", "scale": {"domain": [0, 400], "nice": false}, "axis": {"orient": "left", "values": [0,100,200,300,400], "labelExpr": "datum.value > 0 ? datum.label : ''", "title": null, "tickSize": -30, "labelPadding": 44}}}},
    {"data": {"name": "ann"}, "transform": [{"filter": "datum.p === 'Ba' && datum.k === 'peak'"}], "mark": {"type": "text", "font": "Liberation Sans", "fontSize": 39, "align": "center", "baseline": "middle", "color": "black"},
     "encoding": {"y": {"field": "c", "type": "quantitative", "scale": {"domain": [0, 400], "nice": false}, "axis": {"orient": "right", "labels": false, "values": [0,100,200,300,400], "title": null, "tickSize": -30}}, "text": {"field": "t"}}},
    {"data": {"name": "ann"}, "transform": [{"filter": "datum.p === 'Ba' && datum.k === 'mass'"}], "mark": {"type": "text", "font": "Liberation Sans", "fontSize": 58, "align": "left", "baseline": "alphabetic", "color": "black"},
     "encoding": {"y": {"field": "c", "type": "quantitative", "scale": {"domain": [0, 400], "nice": false}, "axis": {"orient": "left", "labels": false, "values": [50,150,250,350], "title": null, "tickSize": -15}}, "text": {"field": "t"}}},
    {"data": {"name": "ann"}, "transform": [{"filter": "datum.p === 'Ba' && datum.k === 'elem'"}], "mark": {"type": "text", "font": "Liberation Sans", "fontSize": 88, "align": "left", "baseline": "alphabetic", "color": "black"},
     "encoding": {"y": {"field": "c", "type": "quantitative", "scale": {"domain": [0, 400], "nice": false}, "axis": {"orient": "right", "labels": false, "values": [50,150,250,350], "title": null, "tickSize": -15}}, "text": {"field": "t"}}},
    {"data": {"name": "lead"}, "transform": [{"filter": "datum.p === 'Ba'"}], "mark": {"type": "rule", "color": "black", "strokeWidth": 3.5},
     "encoding": {"x2": {"field": "E2"}, "y": {"field": "c", "type": "quantitative", "scale": {"domain": [0, 400], "nice": false}, "axis": null}, "y2": {"field": "c2"}}}
  ]
},
{
  "width": 1187, "height": 436,
  "resolve": {"axis": {"y": "independent"}},
  "encoding": {"x": {"field": "E", "type": "quantitative", "scale": {"domain": [-0.5, 4.5], "nice": false, "zero": false}, "axis": null}},
  "layer": [
    {"data": {"name": "ce"}, "mark": {"type": "line", "interpolate": "step", "clip": true, "color": "black", "strokeWidth": 2.4},
     "encoding": {"y": {"field": "c", "type": "quantitative", "scale": {"domain": [0, 300], "nice": false}, "axis": {"orient": "left", "values": [0,100,200,300], "title": "Counts per channel", "titleX": -116, "titleY": 452, "titleAngle": 270, "titleAlign": "center", "titleBaseline": "alphabetic", "tickSize": -30, "labelPadding": 44}}}},
    {"data": {"name": "ann"}, "transform": [{"filter": "datum.p === 'Ce' && datum.k === 'peak'"}], "mark": {"type": "text", "font": "Liberation Sans", "fontSize": 39, "align": "center", "baseline": "middle", "color": "black"},
     "encoding": {"y": {"field": "c", "type": "quantitative", "scale": {"domain": [0, 300], "nice": false}, "axis": {"orient": "right", "labels": false, "values": [0,100,200,300], "title": null, "tickSize": -30}}, "text": {"field": "t"}}},
    {"data": {"name": "ann"}, "transform": [{"filter": "datum.p === 'Ce' && datum.k === 'mass'"}], "mark": {"type": "text", "font": "Liberation Sans", "fontSize": 58, "align": "left", "baseline": "alphabetic", "color": "black"},
     "encoding": {"y": {"field": "c", "type": "quantitative", "scale": {"domain": [0, 300], "nice": false}, "axis": {"orient": "left", "labels": false, "values": [50,150,250], "title": null, "tickSize": -15}}, "text": {"field": "t"}}},
    {"data": {"name": "ann"}, "transform": [{"filter": "datum.p === 'Ce' && datum.k === 'elem'"}], "mark": {"type": "text", "font": "Liberation Sans", "fontSize": 88, "align": "left", "baseline": "alphabetic", "color": "black"},
     "encoding": {"y": {"field": "c", "type": "quantitative", "scale": {"domain": [0, 300], "nice": false}, "axis": {"orient": "right", "labels": false, "values": [50,150,250], "title": null, "tickSize": -15}}, "text": {"field": "t"}}},
    {"data": {"name": "lead"}, "transform": [{"filter": "datum.p === 'Ce'"}], "mark": {"type": "rule", "color": "black", "strokeWidth": 3.5},
     "encoding": {"x2": {"field": "E2"}, "y": {"field": "c", "type": "quantitative", "scale": {"domain": [0, 300], "nice": false}, "axis": null}, "y2": {"field": "c2"}}}
  ]
},
{
  "width": 1187, "height": 436,
  "resolve": {"axis": {"y": "independent"}},
  "encoding": {"x": {"field": "E", "type": "quantitative", "scale": {"domain": [-0.5, 4.5], "nice": false, "zero": false}, "axis": null}},
  "layer": [
    {"data": {"name": "nd"}, "mark": {"type": "line", "interpolate": "step", "clip": true, "color": "black", "strokeWidth": 2.4},
     "encoding": {"y": {"field": "c", "type": "quantitative", "scale": {"domain": [0, 375], "nice": false}, "axis": {"orient": "left", "values": [0,100,200,300], "title": null, "tickSize": -30, "labelPadding": 44}}}},
    {"data": {"name": "ann"}, "transform": [{"filter": "datum.p === 'Nd' && datum.k === 'peak'"}], "mark": {"type": "text", "font": "Liberation Sans", "fontSize": 39, "align": "center", "baseline": "middle", "color": "black"},
     "encoding": {"y": {"field": "c", "type": "quantitative", "scale": {"domain": [0, 375], "nice": false}, "axis": {"orient": "right", "labels": false, "values": [0,100,200,300], "title": null, "tickSize": -30}}, "text": {"field": "t"}}},
    {"data": {"name": "ann"}, "transform": [{"filter": "datum.p === 'Nd' && datum.k === 'mass'"}], "mark": {"type": "text", "font": "Liberation Sans", "fontSize": 58, "align": "left", "baseline": "alphabetic", "color": "black"},
     "encoding": {"y": {"field": "c", "type": "quantitative", "scale": {"domain": [0, 375], "nice": false}, "axis": {"orient": "left", "labels": false, "values": [50,150,250,350], "title": null, "tickSize": -15}}, "text": {"field": "t"}}},
    {"data": {"name": "ann"}, "transform": [{"filter": "datum.p === 'Nd' && datum.k === 'elem'"}], "mark": {"type": "text", "font": "Liberation Sans", "fontSize": 88, "align": "left", "baseline": "alphabetic", "color": "black"},
     "encoding": {"y": {"field": "c", "type": "quantitative", "scale": {"domain": [0, 375], "nice": false}, "axis": {"orient": "right", "labels": false, "values": [50,150,250,350], "title": null, "tickSize": -15}}, "text": {"field": "t"}}}
  ]
},
{
  "width": 1187, "height": 436,
  "resolve": {"axis": {"x": "independent", "y": "independent"}},
  "layer": [
    {"data": {"name": "sm"}, "mark": {"type": "line", "interpolate": "step", "clip": true, "color": "black", "strokeWidth": 2.4},
     "encoding": {"x": {"field": "E", "type": "quantitative", "scale": {"domain": [-0.5, 4.5], "nice": false, "zero": false}, "axis": {"orient": "bottom", "values": [0,1,2,3,4], "tickSize": 31, "labelPadding": 1, "labelFontSize": 43, "title": "Excitation Energy (MeV)", "titleY": 155, "titleBaseline": "alphabetic"}},
                  "y": {"field": "c", "type": "quantitative", "scale": {"domain": [0, 350], "nice": false}, "axis": {"orient": "left", "values": [0,100,200,300], "title": null, "tickSize": -30, "labelPadding": 44}}}},
    {"data": {"name": "ann"}, "transform": [{"filter": "datum.p === 'Sm' && datum.k === 'peak'"}], "mark": {"type": "text", "font": "Liberation Sans", "fontSize": 39, "align": "center", "baseline": "middle", "color": "black"},
     "encoding": {"x": {"field": "E", "type": "quantitative", "scale": {"domain": [-0.5, 4.5], "nice": false, "zero": false}, "axis": null},
                  "y": {"field": "c", "type": "quantitative", "scale": {"domain": [0, 350], "nice": false}, "axis": {"orient": "right", "labels": false, "values": [0,100,200,300], "title": null, "tickSize": -30}}, "text": {"field": "t"}}},
    {"data": {"name": "ann"}, "transform": [{"filter": "datum.p === 'Sm' && datum.k === 'mass'"}], "mark": {"type": "text", "font": "Liberation Sans", "fontSize": 58, "align": "left", "baseline": "alphabetic", "color": "black"},
     "encoding": {"x": {"field": "E", "type": "quantitative", "scale": {"domain": [-0.5, 4.5], "nice": false, "zero": false}, "axis": {"orient": "bottom", "values": [-0.5,0.5,1.5,2.5,3.5,4.5], "labels": false, "title": null, "tickSize": 15}},
                  "y": {"field": "c", "type": "quantitative", "scale": {"domain": [0, 350], "nice": false}, "axis": {"orient": "left", "labels": false, "values": [50,150,250,350], "title": null, "tickSize": -15}}, "text": {"field": "t"}}},
    {"data": {"name": "ann"}, "transform": [{"filter": "datum.p === 'Sm' && datum.k === 'elem'"}], "mark": {"type": "text", "font": "Liberation Sans", "fontSize": 88, "align": "left", "baseline": "alphabetic", "color": "black"},
     "encoding": {"x": {"field": "E", "type": "quantitative", "scale": {"domain": [-0.5, 4.5], "nice": false, "zero": false}, "axis": null},
                  "y": {"field": "c", "type": "quantitative", "scale": {"domain": [0, 350], "nice": false}, "axis": {"orient": "right", "labels": false, "values": [50,150,250,350], "title": null, "tickSize": -15}}, "text": {"field": "t"}}}
  ]
}
]
}
